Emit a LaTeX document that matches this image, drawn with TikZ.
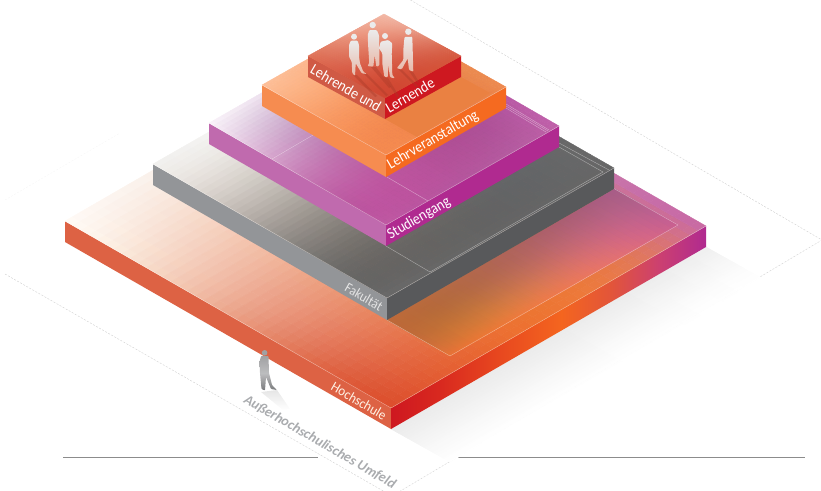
\documentclass[tikz,border=0pt]{standalone}
\usepackage{fontspec}
\setmainfont{Carlito}
\newcommand\wtab[3]{%
 \pgfmathsetmacro\tv{#3}%
 \pgfmathsetmacro\wwa{-4500*(\tv-1/3)*(\tv-2/3)*(\tv-1)}%
 \pgfmathsetmacro\wwb{13500*\tv*(\tv-2/3)*(\tv-1)}%
 \pgfmathsetmacro\wwc{-13500*\tv*(\tv-1/3)*(\tv-1)}%
 \pgfmathsetmacro\wwd{4500*\tv*(\tv-1/3)*(\tv-2/3)}%
 \pgfmathtruncatemacro\wwa{round(\wwa)}\pgfmathtruncatemacro\wwb{round(\wwb)}%
 \pgfmathtruncatemacro\wwc{round(\wwc)}\pgfmathtruncatemacro\wwd{round(\wwd)}%
 \expandafter\xdef\csname #1-#2-0\endcsname{\wwa}%
 \expandafter\xdef\csname #1-#2-1\endcsname{\wwb}%
 \expandafter\xdef\csname #1-#2-2\endcsname{\wwc}%
 \expandafter\xdef\csname #1-#2-3\endcsname{\wwd}}
\foreach \j in {0,...,39}{\wtab{W}{\j}{(\j+0.5)/40}}
\def\parsehex#1#2#3#4#5#6;{%
 \expandafter\xdef\csname cR\kx\endcsname{\the\numexpr"#1#2\relax}%
 \expandafter\xdef\csname cG\kx\endcsname{\the\numexpr"#3#4\relax}%
 \expandafter\xdef\csname cB\kx\endcsname{\the\numexpr"#5#6\relax}}
\def\safe#1{\ifcsname#1\endcsname\csname#1\endcsname\else 0\fi}
\def\cv#1#2#3{\safe{c#1\the\numexpr#2+4*#3\relax}}
\def\qw#1{\safe{W-\j-#1}}
\def\pw#1{\safe{W-\m-#1}}
\def\sv#1#2{\safe{s#1#2}}
\def\stopv#1{\numexpr\numexpr\pw0*\sv{#1}0+\pw1*\sv{#1}1+\pw2*\sv{#1}2+\pw3*\sv{#1}3\relax/1000\relax}
\def\clampv#1{\ifnum\stopv{#1}<0 0\else\ifnum\stopv{#1}>255 255\else\the\stopv{#1}\fi\fi}
\def\Pt#1#2{\pgfqpoint{\dimexpr\Lx+\Ax*#1/40+\Bx*#2/40\relax}{\dimexpr-\Ly-\Ay*#1/40-\By*#2/40\relax}}
% name, Lx,Ly, Fx,Fy, Rx,Ry, 16 colours (rows F-R direction, columns L-F direction)
\newcommand\meshface[8]{%
 \foreach \cc [count=\kk] in {#8}{\edef\kx{\the\numexpr\kk-1\relax}\expandafter\parsehex\cc;}%
 \begingroup
 \edef\Lx{#2pt}\edef\Ly{#3pt}%
 \edef\Ax{\the\dimexpr#4pt-#2pt\relax}\edef\Ay{\the\dimexpr#5pt-#3pt\relax}%
 \edef\Bx{\the\dimexpr#6pt-#4pt\relax}\edef\By{\the\dimexpr#7pt-#5pt\relax}%
 \foreach \j in {0,...,39}{%
  \edef\jn{\the\numexpr\j+1\relax}%
  \foreach \ch in {R,G,B}{\foreach \i in {0,1,2,3}{%
   \expandafter\xdef\csname s\ch\i\endcsname{\the\numexpr\numexpr\qw0*\cv\ch\i0+\qw1*\cv\ch\i1+\qw2*\cv\ch\i2+\qw3*\cv\ch\i3\relax/1000\relax}}}%
  \foreach \m in {0,...,39}{%
   \edef\mn{\the\numexpr\m+1\relax}%
   \edef\rr{\clampv{R}}\edef\gv{\clampv{G}}\edef\bb{\clampv{B}}%
   \definecolor{cellc}{RGB}{\rr,\gv,\bb}%
   \begin{pgfscope}
   \pgfsetfillcolor{cellc}\pgfsetstrokecolor{cellc}\pgfsetlinewidth{.35pt}%
   \pgfpathmoveto{\Pt\m\j}\pgfpathlineto{\Pt\mn\j}\pgfpathlineto{\Pt\mn\jn}\pgfpathlineto{\Pt\m\jn}\pgfpathclose
   \pgfusepath{fill,stroke}%
   \end{pgfscope}%
  }}%
 \endgroup}
\definecolor{c1}{HTML}{CE1820}\definecolor{c2}{HTML}{D8281F}\definecolor{c3}{HTML}{E8491F}
\definecolor{c4}{HTML}{F4651F}\definecolor{c5}{HTML}{E2553A}\definecolor{c6}{HTML}{CC4070}\definecolor{c7}{HTML}{B02A90}
\pgfdeclarehorizontalshading{hsright}{100bp}{color(0bp)=(c1);color(25bp)=(c1);color(32.5bp)=(c2);color(42.5bp)=(c3);color(52bp)=(c4);color(60bp)=(c5);color(67.5bp)=(c6);color(75bp)=(c7);color(100bp)=(c7)}
\definecolor{hsleft}{HTML}{DD6244}\definecolor{faleft}{HTML}{939598}\definecolor{faright}{HTML}{58595B}
\definecolor{stleft}{HTML}{C06AAE}\definecolor{stright}{HTML}{B02A90}\definecolor{olleft}{HTML}{F68C50}
\definecolor{olright}{HTML}{F56A20}\definecolor{releft}{HTML}{D05A45}\definecolor{reright}{HTML}{CE1820}
\definecolor{dashc}{HTML}{CFCFCF}\definecolor{rulec}{HTML}{8C8C8C}\definecolor{umfeld}{HTML}{A9ABAE}
\definecolor{orshadow}{HTML}{EA8142}\definecolor{pshadow}{HTML}{A83A28}\definecolor{fsh}{HTML}{E6E6E6}
\definecolor{F0}{HTML}{EBEBEB}\definecolor{BT}{HTML}{E8B8A8}
\definecolor{G0}{HTML}{A0A1A3}\definecolor{G1}{HTML}{78797B}
\tikzset{
 lab/.style={inner sep=0pt,text=white,font=\fontsize{15.5}{15.5}\selectfont},
 labsmall/.style={inner sep=0pt,font=\fontsize{14}{14}\selectfont},
 hair/.style={draw=white,draw opacity=.45,line width=.4pt},
 dashline/.style={draw=dashc,line width=.4pt,dash pattern=on 2pt off 1.5pt},
 rulel/.style={draw=rulec,line width=.6pt},
 people/.style={rounded corners=1pt,top color=F0,bottom color=BT},
 phead/.style={fill=F0},
 pshad/.style={fill=pshadow,fill opacity=.4}
}
\begin{document}
\begin{tikzpicture}[x=1pt,y=-1pt]
\useasboundingbox (0,0) rectangle (821,490);
\begin{scope}
\clip (0,0) rectangle (821,490);
% floor lines
\draw[dashline] (5,274) -- (392,496) -- (822,240) -- (407,-2);
\draw[dashline,draw opacity=.2] (5,200) -- (120,133);
\draw[rulel] (63,457) -- (318,457);
\draw[rulel] (458,457) -- (805,457);
% cast shadow
\meshface{floor}{391}{429}{450}{462}{765}{280}{EBEBEB,F2F2F2,F9F9F9,FFFFFF, EBEBEB,F2F2F2,F9F9F9,FFFFFF, ECECEC,F3F3F3,FAFAFA,FFFFFF, EFEFEF,F6F6F6,FCFCFC,FFFFFF}
% small figure shadow
\shade[left color=fsh,right color=white,shading angle=0] (261,392) -- (277,390) -- (290,409) -- (283,410) -- cycle;
% Hochschule
\fill[hsleft] (65,221) -- (391,408) -- (391,429) -- (65,242) -- cycle;
\shade[shading=hsright] (391,408) -- (706,226) -- (706,247) -- (391,429) -- cycle;
\meshface{hsouter}{65}{221}{391}{408}{706}{226}{FFFAF6,F4CBB6,E37D5E,DC4E2C, F9F0EA,F4C2A8,EC8F62,EA6A30, F5E6E0,F0B898,E88850,EB7A42, F0D8E0,D8A0B0,C878B0,C76AA8}
\meshface{hsinner}{387}{320}{450}{356}{678}{225}{BE6A3A,BF6A38,CC6E38,E87238, B4694A,B86C48,D07845,EE7A40, AC6068,BC6670,D46E70,E87468, A85C88,B0608A,BC6090,C85F90}
\draw[hair] (387,320) -- (450,356) -- (678,225) -- (613,188);
\draw[hair] (65,221) -- (391,408) -- (706,226);
% Fakultaet
\fill[faleft] (153,164) -- (387,298) -- (387,320) -- (153,185) -- cycle;
\fill[faright] (387,298) -- (614,168) -- (614,189) -- (387,320) -- cycle;
\meshface{fak}{153}{164}{387}{298}{614}{168}{F0F0EE,C5BEB8,7D7A76,6A6A6A, F5F5F3,C0BAB4,7C7874,676767, F5F5F3,A8A4A0,707070,666666, F0F0F0,808080,686868,666666}
\draw[hair] (386,246) -- (430,272) -- (603,172) -- (559,147);
\draw[hair] (559,143) -- (609,170);
\draw[hair] (153,164) -- (387,298) -- (614,168);
% Studiengang
\fill[stleft] (209,123) -- (386,225) -- (386,246) -- (209,144) -- cycle;
\fill[stright] (386,225) -- (559,126) -- (559,147) -- (386,246) -- cycle;
\meshface{stud}{209}{123}{386}{225}{559}{126}{FAF4FA,D8A8CF,C065A8,C05AA4, F0E4F0,C088B8,BA5AA0,B8559F, E8D8E8,B870A8,AE4F95,B55AA0, E0D0E0,B870A8,B85BA5,C060A8}
\draw[hair] (272,159) -- (313,135);
\draw[hair] (387,177) -- (428,201);
\draw[hair] (506,106) -- (548,131);
\draw[hair] (506,104) -- (549,130);
\draw[hair] (506,108) -- (546,132);
\draw[hair] (209,123) -- (386,225) -- (559,126);
% Lehrveranstaltung
\fill[olleft] (262,85) -- (386,155) -- (386,177) -- (262,106) -- cycle;
\fill[olright] (386,155) -- (506,87) -- (506,108) -- (386,177) -- cycle;
\meshface{lehrv}{262}{85}{386}{155}{506}{87}{FDC09A,FBA673,F79258,F58A4E, FCB890,FAA46F,F48E55,F2884D, FAAF85,F5985F,EE8A50,EC8246, F8A878,F2905A,EC8A50,EE8A50}
\fill[orshadow] (385,119) -- (417,137) -- (490,93) -- (461,77) -- cycle;
\draw[hair] (262,85) -- (386,155) -- (506,87);
% Lehrende und Lernende
\fill[releft] (308,56) -- (385,98) -- (385,119) -- (308,77) -- cycle;
\fill[reright] (385,98) -- (461,56) -- (461,77) -- (385,119) -- cycle;
\meshface{lehrd}{308}{56}{385}{98}{461}{56}{DF7155,D95F48,D2503A,CF4632, E68A72,DE6F58,D6553F,D24A34, EEA48F,E5836C,D9624C,D45238, F2B6A3,EBA08C,DF7860,D5573E}
% figure shadows
\fill[pshad] (353,75) -- (357,75) -- (377,96) -- (375,97) -- cycle;
\fill[pshad] (363,73) -- (367,74) -- (388,95) -- (386,96) -- cycle;
\fill[pshad] (371,67) -- (376,67) -- (391,87) -- (389,88) -- cycle;
\fill[pshad] (384,77) -- (388,78) -- (399,96) -- (397,97) -- cycle;
\fill[pshad] (398,69) -- (402,70) -- (418,86) -- (416,87) -- cycle;
\fill[pshad] (409,71) -- (413,72) -- (419,82) -- (417,83) -- cycle;
% four figures
\shade[people] (350.7,40.7) -- (349,45) -- (349,56.7) -- (351.7,61.7) -- (352.3,73.3) -- (355,76) -- (355.7,63.3) -- (361.7,73.3) -- (366.7,74) -- (363.3,71.7) -- (360,63.3) -- (359,56.7) -- (359,45) -- (357.7,40.7) -- cycle;
\fill[phead] (354,36.7) circle (3);
\shade[people] (369.3,30) -- (367.7,35) -- (368.3,48.3) -- (369.3,63.3) -- (367.3,66) -- (373.3,66.7) -- (374.7,55) -- (376.3,66.7) -- (379.3,65.7) -- (379.3,48.3) -- (379,35) -- (376.7,30) -- cycle;
\fill[phead] (372.7,25) circle (3.2);
\shade[people] (404.5,37) -- (403.3,50) -- (403.3,60) -- (396.7,68.3) -- (401.7,69.3) -- (407.7,58.3) -- (409,70) -- (413.3,71.7) -- (412.7,50) -- (412.3,36.7) -- cycle;
\fill[phead] (408.3,31.7) circle (3.2);
\shade[people] (380.7,41.7) -- (379,48.3) -- (382.3,53.3) -- (382.3,63.3) -- (384.3,76.7) -- (387.7,77.3) -- (388.3,65) -- (390,77.3) -- (395,78.3) -- (392.3,75) -- (391.7,53.3) -- (392.3,43.3) -- (388.3,40) -- cycle;
\fill[phead] (385,36) circle (3);
% small figure
\shade[rounded corners=.8pt,top color=G0,bottom color=G1,middle color=G0!70!white] (261,356) -- (259.5,362) -- (260,373) -- (261.5,389) -- (265,390.5) -- (266,377) -- (271,389) -- (277,390) -- (272,385) -- (269,373) -- (268.5,356) -- cycle;
\fill[G0] (264.6,352.8) circle (2.8);
\end{scope}
% labels
\node[lab,rotate=-30] (lehrende) at (346,88) {\scalebox{.9}[1]{Lehrende und}};
\node[lab,rotate=30] (lernende) at (410,95) {\scalebox{.9}[1]{Lernende}};
\node[lab,rotate=30] (lv) at (433,140) {\scalebox{.9}[1]{Lehrveranstaltung}};
\node[lab,rotate=30] (sg) at (419,218.5) {\scalebox{.9}[1]{Studiengang}};
\node[labsmall,rotate=-30,text=white!90!black] (fa) at (364,297) {\scalebox{.9}[1]{Fakultät}};
\node[labsmall,rotate=-30,text=white!90!orange] (hs) at (359,401) {\scalebox{.93}[1]{Hochschule}};
\node[lab,rotate=-30,text=umfeld,font=\fontsize{14}{14}\selectfont\itshape\bfseries] (um) at (320,442) {Außerhochschulisches Umfeld};
\end{tikzpicture}
\end{document}
